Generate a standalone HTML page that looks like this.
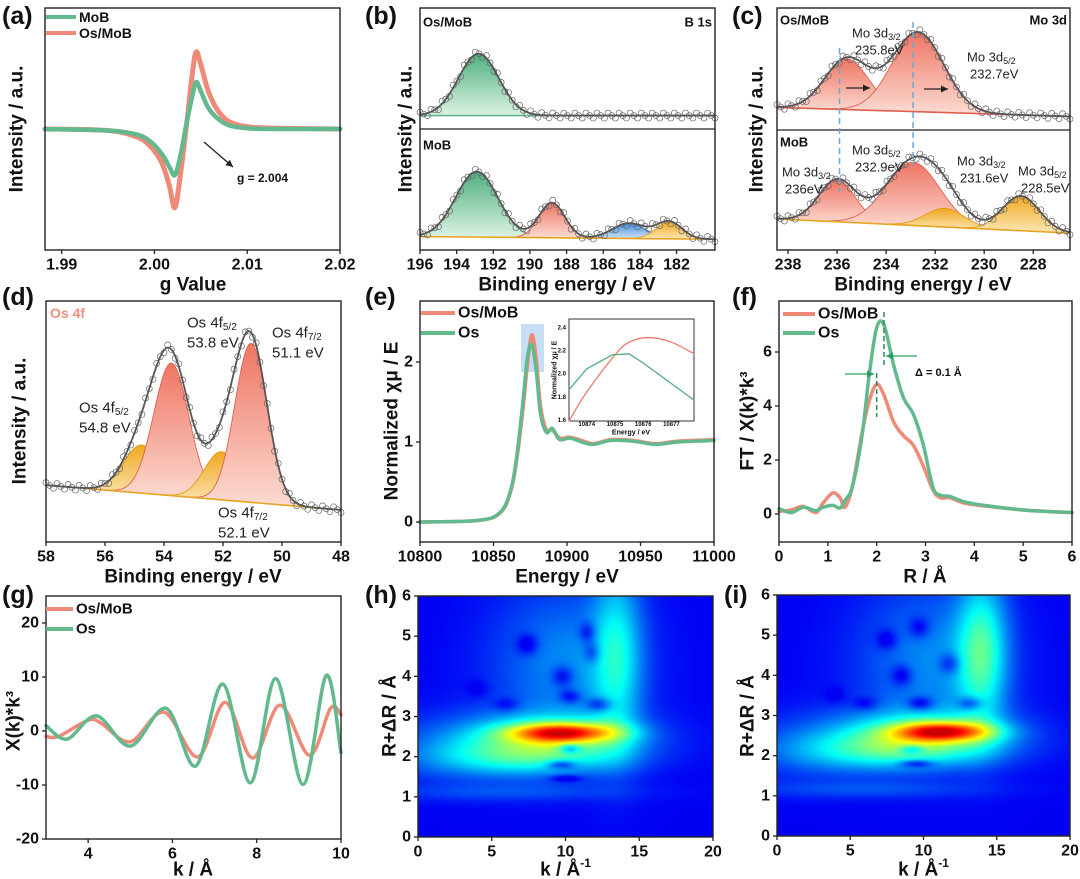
<!DOCTYPE html>
<html><head><meta charset="utf-8"><title>Os/MoB characterization figure</title>
<style>
html,body{margin:0;padding:0;background:#fff;}
#wrap{position:relative;width:1080px;height:879px;overflow:hidden;font-family:"Liberation Sans",Arial,sans-serif;}
canvas{position:absolute;}
svg{position:absolute;left:0;top:0;}
</style></head>
<body>
<div id="wrap">
<canvas id="hmH" width="295" height="241" style="left:418px;top:596px;width:295px;height:241px"></canvas>
<canvas id="hmI" width="293" height="241" style="left:777px;top:595px;width:293px;height:241px"></canvas>
<svg id="fig" width="1080" height="879" viewBox="0 0 1080 879">
<defs>
<linearGradient id="gGreen" x1="0" y1="0" x2="0" y2="1"><stop offset="0" stop-color="#4fb07f"/><stop offset="1" stop-color="#dcf2e4"/></linearGradient>
<linearGradient id="gRed" x1="0" y1="0" x2="0" y2="1"><stop offset="0" stop-color="#ee7563"/><stop offset="1" stop-color="#fcdcd3"/></linearGradient>
<linearGradient id="gBlue" x1="0" y1="0" x2="0" y2="1"><stop offset="0" stop-color="#3f8de0"/><stop offset="1" stop-color="#d4e6fa"/></linearGradient>
<linearGradient id="gYellow" x1="0" y1="0" x2="0" y2="1"><stop offset="0" stop-color="#f0a820"/><stop offset="1" stop-color="#fbe8b8"/></linearGradient>
</defs>
</svg>
</div>
<script>
// ---------- DATA ----------
// (a) EPR
const epr_g = [1.9882,1.995,1.998,1.9995,2.0008,2.0016,2.0022,2.0028,2.0035,2.0041,2.0045,2.0050,2.0058,2.0068,2.008,2.010,2.013,2.02];
const epr_osmob = [0,-0.02,-0.1,-0.22,-0.45,-0.75,-1.04,-0.6,0.1,0.75,1.02,0.85,0.5,0.25,0.1,0.03,0.01,0];
const epr_mob = [0,-0.02,-0.07,-0.16,-0.33,-0.5,-0.61,-0.35,0.1,0.45,0.62,0.5,0.28,0.14,0.05,0.01,0,0];
const epr_xticks = [1.99,2.00,2.01,2.02];
// (b) B 1s
const b_top_centers = [192.8];
const b_top_heights = [0.69];
const b_top_sigmas = [1.1];
const b_bot_centers = [192.9,188.8,184.6,182.4];
const b_bot_heights = [0.73,0.39,0.17,0.19];
const b_bot_sigmas = [1.15,0.7,0.9,0.7];
const b_xticks = [196,194,192,190,188,186,184,182];
// (c) Mo 3d
const c_top_centers = [235.6,232.7];
const c_top_heights = [0.56,0.88];
const c_top_sigmas = [0.9,1.05];
const c_bot_centers = [236,232.9,231.6,228.5];
const c_bot_heights = [0.47,0.71,0.21,0.39];
const c_bot_sigmas = [0.75,1.1,0.8,0.75];
const c_xticks = [238,236,234,232,230,228];
// (d) Os 4f
const d_centers = [54.75,53.75,52.05,51.05];
const d_heights = [0.2,0.55,0.2,0.66];
const d_sigmas = [0.62,0.6,0.58,0.55];
const d_xticks = [58,56,54,52,50,48];
// (e) XANES
const xan_E = [10800,10840,10855,10862,10866,10870,10873,10876,10879,10882,10886,10890,10895,10902,10910,10918,10930,10945,10960,10975,11000];
const xan_osmob = [0,0.02,0.12,0.4,0.8,1.4,1.95,2.34,2.05,1.45,1.15,1.15,1.05,1.06,1.02,0.98,1.03,1.02,0.98,1.01,1.03];
const xan_os = [0,0.02,0.13,0.42,0.85,1.5,2.05,2.22,1.9,1.35,1.12,1.17,1.03,1.05,1.0,0.97,1.02,1.01,0.97,1.0,1.02];
const xan_xticks = [10800,10850,10900,10950,11000];
const xan_yticks = [0,1,2];
const ins_E_red = [10873.37,10874,10875,10875.5,10876.2,10877,10877.8];
const ins_v_red = [1.6,1.85,2.17,2.28,2.32,2.28,2.18];
const ins_E_green = [10873.37,10874,10874.9,10875.5,10876,10877.8];
const ins_v_green = [1.87,2.05,2.17,2.18,2.1,1.78];
const ins_xticks = [10874,10875,10876,10877];
const ins_yticks = [1.6,1.8,2.0,2.2,2.4];
// (f) FT-EXAFS
const ft_R = [0,0.25,0.5,0.75,0.9,1.1,1.25,1.35,1.5,1.7,1.85,2.0,2.15,2.35,2.55,2.75,2.95,3.15,3.3,3.5,3.8,4.2,5,6];
const ft_osmob = [0.1,0.15,0.28,0.05,0.4,0.78,0.6,0.25,1.0,3.0,4.2,4.8,4.4,3.4,2.9,2.55,1.8,0.9,0.6,0.6,0.4,0.3,0.15,0.05];
const ft_os = [0.2,0.05,0.25,0.12,0.25,0.32,0.22,0.5,1.0,2.9,5.2,6.9,7.0,5.5,4.3,3.7,2.6,1.0,0.7,0.65,0.45,0.32,0.15,0.05];
const ft_xticks = [0,1,2,3,4,5,6];
const ft_yticks = [0,2,4,6];
// (g) k-space
const k_osmob = [3,3.3,4.0,4.3,5.0,5.8,6.6,7.25,7.9,8.55,9.25,9.75,10];
const chi_osmob = [-1,-1,2,1.5,-2,3.5,-4.8,5.3,-5,4.8,-4.5,4.2,3];
const k_os = [3,3.5,4.2,5.0,5.85,6.55,7.2,7.85,8.45,9.1,9.65,10];
const chi_os = [1,-1.5,2.8,-2.8,4.2,-6.5,8.7,-9.6,9.7,-9.9,10.3,-4];
const k_xticks = [4,6,8,10];
const k_yticks = [-20,-10,0,10,20];
// (h),(i) wavelet transform features: [k, R, amplitude, sigmaK, sigmaR]
const wt_h_k = [9.8,9,7,13.5,10,3,6, 7.4,9.8,10.3,11.5,11.8,12.3,6,10.3,9.7,10,4];
const wt_h_R = [2.6,2.45,1.95,4.5,4.3,2.2,1.1, 4.8,4.0,3.5,5.1,4.6,3.3,3.3,2.2,1.8,1.45,3.7];
const wt_h_a = [0.6,0.33,0.21,0.26,0.17,0.1,0.08, -0.15,-0.15,-0.15,-0.15,-0.13,-0.18,-0.1,-0.25,-0.2,-0.15,-0.06];
const wt_h_sk = [2.5,4.2,4.5,1.2,3.5,4,6, 0.5,0.5,0.5,0.4,0.4,0.6,0.6,0.5,0.7,0.7,0.5];
const wt_h_sR = [0.17,0.42,0.32,1.6,1.4,0.6,0.15, 0.18,0.18,0.12,0.18,0.18,0.12,0.12,0.08,0.08,0.06,0.15];
const wt_i_k = [11.3,10,7.5,14,10.5,3,6, 7.5,9.7,8.5,11.8,9.8,13.2,6,9.2,9.5,4];
const wt_i_R = [2.6,2.5,2.1,4.6,4.3,2.2,1.15, 4.9,5.2,4.0,4.3,3.3,3.3,3.3,2.15,1.8,3.5];
const wt_i_a = [0.6,0.33,0.21,0.34,0.17,0.1,0.08, -0.13,-0.13,-0.15,-0.15,-0.18,-0.18,-0.1,-0.2,-0.2,-0.06];
const wt_i_sk = [2.3,4.2,4.5,1.2,3.5,4,6, 0.5,0.5,0.5,0.5,0.6,0.6,0.6,0.6,0.8,0.5];
const wt_i_sR = [0.17,0.42,0.32,1.3,1.4,0.6,0.15, 0.18,0.18,0.18,0.18,0.12,0.12,0.12,0.08,0.07,0.15];
const wt_xticks = [0,5,10,15,20];
const wt_yticks = [0,1,2,3,4,5,6];

// ---------- HELPERS ----------
const NS = 'http://www.w3.org/2000/svg';
const svg = document.getElementById('fig');
function mk(tag, attrs, parent){
  const e = document.createElementNS(NS, tag);
  for (const k in attrs) e.setAttribute(k, attrs[k]);
  (parent || svg).appendChild(e);
  return e;
}
function nm(e, n){
  
  
  return e;
}
function lin(d0,d1,r0,r1){ return v => r0 + (v-d0)/(d1-d0)*(r1-r0); }
function smooth(pts){
  let d = 'M' + pts[0][0].toFixed(2) + ',' + pts[0][1].toFixed(2);
  for (let i=0;i<pts.length-1;i++){
    const p0 = pts[i-1]||pts[i], p1=pts[i], p2=pts[i+1], p3=pts[i+2]||pts[i+1];
    const c1x=p1[0]+(p2[0]-p0[0])/6, c1y=p1[1]+(p2[1]-p0[1])/6;
    const c2x=p2[0]-(p3[0]-p1[0])/6, c2y=p2[1]-(p3[1]-p1[1])/6;
    d += ` C${c1x.toFixed(2)},${c1y.toFixed(2)} ${c2x.toFixed(2)},${c2y.toFixed(2)} ${p2[0].toFixed(2)},${p2[1].toFixed(2)}`;
  }
  return d;
}
function text(x,y,str,opts,name){
  const o = Object.assign({size:14,weight:'bold',anchor:'start',fill:'#111'},opts||{});
  const t = mk('text',{x:x,y:y,'font-size':o.size,'font-weight':o.weight,'text-anchor':o.anchor,fill:o.fill,'font-family':'Liberation Sans, Arial, sans-serif','dominant-baseline':'central'});
  if (o.rot) t.setAttribute('transform',`rotate(-90 ${x} ${y})`);
  t.textContent = str;
  nm(t, name);
  return t;
}
function frame(x0,y0,x1,y1,name){
  const r = mk('rect',{x:x0,y:y0,width:x1-x0,height:y1-y0,fill:'none',stroke:'#222','stroke-width':1.4});
  nm(r, name);
}
function xAxis(vals, sx, ybot, labels, name, size){
  vals.forEach((v,i)=>{
    const x = sx(v);
    const t = mk('line',{x1:x,y1:ybot,x2:x,y2:ybot+4,stroke:'#222','stroke-width':1.3});
    nm(t, name+'-tick');
    text(x, ybot+15, labels ? labels[i] : String(v), {size:size||15,anchor:'middle'}, name+'-label');
  });
}
function yAxis(vals, sy, xleft, name, fmt, size){
  vals.forEach(v=>{
    const y = sy(v);
    const t = mk('line',{x1:xleft-4,y1:y,x2:xleft,y2:y,stroke:'#222','stroke-width':1.3});
    nm(t, name+'-tick');
    text(xleft-7, y, fmt ? fmt(v) : String(v), {size:size||15,anchor:'end'}, name+'-label');
  });
}
function line(xs, ys, sx, sy, color, w, name){
  const pts = xs.map((x,i)=>[sx(x), sy(ys[i])]);
  const p = mk('path',{d:smooth(pts),fill:'none',stroke:color,'stroke-width':w,'stroke-linejoin':'round','stroke-linecap':'round'});
  nm(p, name);
  return p;
}
function legendEntry(x,y,len,color,label,name,size){
  const l = mk('line',{x1:x,y1:y,x2:x+len,y2:y,stroke:color,'stroke-width':4});
  nm(l, name+'-swatch');
  text(x+len+3,y,label,{size:size||15},name+'-label');
}
function arrow(x1,y1,x2,y2,color,name){
  const l = mk('line',{x1:x1,y1:y1,x2:x2,y2:y2,stroke:color,'stroke-width':1.3});
  nm(l, name);
  const a = Math.atan2(y2-y1,x2-x1), L=7, W=3.5;
  const p = [[x2,y2],[x2-L*Math.cos(a)+W*Math.sin(a), y2-L*Math.sin(a)-W*Math.cos(a)],[x2-L*Math.cos(a)-W*Math.sin(a), y2-L*Math.sin(a)+W*Math.cos(a)]];
  const h = mk('polygon',{points:p.map(q=>q.join(',')).join(' '),fill:color});
  nm(h, name+'-head');
}
const FILL = {g:'url(#gGreen)',r:'url(#gRed)',b:'url(#gBlue)',y:'url(#gYellow)'};
const EDGE = {g:'#3f9a6c',r:'#e0604f',b:'#3c7fd0',y:'#e39a10'};
function gauss(x,c,h,s){ return h*Math.exp(-(x-c)*(x-c)/(2*s*s)); }
function xps(sx, sy, xd0, xd1, base0, base1, centers, heights, sigmas, colors, name, baseColor, circles){
  const N = 240;
  const xs = []; for (let i=0;i<=N;i++) xs.push(xd0 + (xd1-xd0)*i/N);
  const base = x => base0 + (base1-base0)*(x-xd0)/(xd1-xd0);
  centers.forEach((c,j)=>{
    let d='';
    const pts = xs.filter(x=>Math.abs(x-c)<4*sigmas[j]);
    pts.forEach((x,i)=>{ d += (i?'L':'M') + sx(x).toFixed(2)+','+sy(base(x)+gauss(x,c,heights[j],sigmas[j])).toFixed(2); });
    for (let i=pts.length-1;i>=0;i--) d += 'L'+sx(pts[i]).toFixed(2)+','+sy(base(pts[i])).toFixed(2);
    const p = mk('path',{d:d+'Z',fill:FILL[colors[j]],stroke:EDGE[colors[j]],'stroke-width':0.9});
    nm(p, name+'-peak-'+(j+1));
  });
  const bl = mk('line',{x1:sx(xd0),y1:sy(base0),x2:sx(xd1),y2:sy(base1),stroke:baseColor,'stroke-width':1.6});
  nm(bl, name+'-baseline');
  const env = xs.map(x=>{ let v=base(x); centers.forEach((c,j)=>{v+=gauss(x,c,heights[j],sigmas[j]);}); return [sx(x),sy(v)]; });
  if (circles){
    for (let i=0;i<env.length;i+=3){
      const c = mk('circle',{cx:env[i][0],cy:env[i][1]+((i/3)%3-1)*2.5,r:3,fill:'none',stroke:'#666','stroke-width':0.7});
      nm(c, name+'-data-point');
    }
  }
  const e = mk('path',{d:'M'+env.map(p=>p[0].toFixed(2)+','+p[1].toFixed(2)).join('L'),fill:'none',stroke:'#555','stroke-width':1.8});
  nm(e, name+'-envelope');
}
function panelLabel(x,y,s,name){ text(x,y,s,{size:25},name); }

// ---------- (a) EPR ----------
{
  const sx = lin(1.9882,2.0200,45,340), sy = lin(-1.6,1.6,250,8);
  line(epr_g, epr_osmob, sx, sy, '#f08a78', 5, 'epr-osmob-line');
  line(epr_g, epr_mob, sx, sy, '#62b98e', 4.5, 'epr-mob-line');
  frame(45,8,340,250,'plot-frame-a');
  xAxis(epr_xticks, sx, 250, epr_xticks.map(v=>v.toFixed(2)), 'x-axis-a', 16);
  text(193,285,'g Value',{size:19,anchor:'middle'},'x-axis-title-a');
  text(17,129,'Intensity / a.u.',{size:19,anchor:'middle',rot:true},'y-axis-title-a');
  legendEntry(46,17,30,'#62b98e','MoB','legend-mob-a',14);
  legendEntry(46,33,30,'#f08a78','Os/MoB','legend-osmob-a',14);
  arrow(204,142,233,167,'#222','g-value-arrow');
  text(237,178,'g = 2.004',{size:12},'g-value-annotation');
  panelLabel(2,16,'(a)','panel-label-a');
}
// ---------- (b) B 1s ----------
{
  const sx = lin(196,179.9,420,715);
  const syT = lin(-0.15,1.2,129,8), syB = lin(-0.15,1.2,250,129);
  xps(sx, syT, 196, 179.9, 0, 0, b_top_centers, b_top_heights, b_top_sigmas, ['g'], 'b1s-osmob', '#5fb98a', true);
  xps(sx, syB, 196, 179.9, 0, -0.03, b_bot_centers, b_bot_heights, b_bot_sigmas, ['g','r','b','y'], 'b1s-mob', '#e8a420', true);
  frame(420,8,715,250,'plot-frame-b');
  const sp = mk('line',{x1:420,y1:129,x2:715,y2:129,stroke:'#222','stroke-width':1.3}); nm(sp,'panel-divider-b');
  xAxis(b_xticks, sx, 250, null, 'x-axis-b', 16);
  text(567,285,'Binding energy / eV',{size:19,anchor:'middle'},'x-axis-title-b');
  text(406,129,'Intensity / a.u.',{size:19,anchor:'middle',rot:true},'y-axis-title-b');
  text(423,22,'Os/MoB',{size:13},'sample-label-osmob-b');
  text(712,22,'B 1s',{size:13,anchor:'end'},'region-label-b');
  text(423,145,'MoB',{size:13},'sample-label-mob-b');
  panelLabel(365,16,'(b)','panel-label-b');
}
// ---------- (c) Mo 3d ----------
{
  const sx = lin(238.45,226.5,777,1070);
  const syT = lin(-0.15,1.2,130,8), syB = lin(-0.15,1.2,250,130);
  xps(sx, syT, 238.45, 226.5, 0.1, 0.0, c_top_centers, c_top_heights, c_top_sigmas, ['r','r'], 'mo3d-osmob', '#e0604f', true);
  xps(sx, syB, 238.45, 226.5, 0.2, 0.04, c_bot_centers, c_bot_heights, c_bot_sigmas, ['r','r','y','y'], 'mo3d-mob', '#e8a420', true);
  frame(777,8,1070,250,'plot-frame-c');
  const sp = mk('line',{x1:777,y1:130,x2:1070,y2:130,stroke:'#222','stroke-width':1.3}); nm(sp,'panel-divider-c');
  [235.9,232.9].forEach((v,i)=>{
    const l = mk('line',{x1:sx(v),y1:i?22:48,x2:sx(v),y2:i?165:192,stroke:'#6aa8d8','stroke-width':1.5,'stroke-dasharray':'6,4'});
    nm(l,'shift-guide-'+(i+1));
  });
  arrow(846,88,870,88,'#222','shift-arrow-1');
  arrow(924,89,948,89,'#222','shift-arrow-2');
  xAxis(c_xticks, sx, 250, null, 'x-axis-c', 16);
  text(923,285,'Binding energy / eV',{size:19,anchor:'middle'},'x-axis-title-c');
  text(757,129,'Intensity / a.u.',{size:19,anchor:'middle',rot:true},'y-axis-title-c');
  text(780,20,'Os/MoB',{size:13},'sample-label-osmob-c');
  text(1067,20,'Mo 3d',{size:13,anchor:'end'},'region-label-c');
  text(780,142,'MoB',{size:13},'sample-label-mob-c');
  function lab(x,y,sub,ev,name){
    const t = mk('text',{x:x,y:y,'font-size':13,'font-family':'Liberation Sans, Arial, sans-serif',fill:'#222','dominant-baseline':'central'});
    t.innerHTML = 'Mo 3d<tspan font-size="9" dy="4">'+sub+'</tspan>';
    nm(t, name+'-orbital');
    text(x+3,y+17,ev,{size:13,weight:'normal',fill:'#222'},name+'-energy');
  }
  lab(852,33,'3/2','235.8eV','peak-label-osmob-3d32');
  lab(967,57,'5/2','232.7eV','peak-label-osmob-3d52');
  lab(852,150,'5/2','232.9eV','peak-label-mob-3d52-a');
  lab(782,172,'3/2','236eV','peak-label-mob-3d32-a');
  lab(957,161,'3/2','231.6eV','peak-label-mob-3d32-b');
  lab(1018,171,'5/2','228.5eV','peak-label-mob-3d52-b');
  panelLabel(732,16,'(c)','panel-label-c');
}
// ---------- (d) Os 4f ----------
{
  const sx = lin(58,48,46,341), sy = lin(0,1,542,301);
  xps(sx, sy, 58, 48, 0.236, 0.133, d_centers, d_heights, d_sigmas, ['y','r','y','r'], 'os4f', '#e8a420', true);
  frame(46,301,341,542,'plot-frame-d');
  xAxis(d_xticks, sx, 542, null, 'x-axis-d', 16);
  text(193,577,'Binding energy / eV',{size:19,anchor:'middle'},'x-axis-title-d');
  text(20,421,'Intensity / a.u.',{size:19,anchor:'middle',rot:true},'y-axis-title-d');
  text(50,313,'Os 4f',{size:14,fill:'#f09080'},'region-label-d');
  function lab(x,y,sub,ev,name){
    const t = mk('text',{x:x,y:y,'font-size':15,'font-family':'Liberation Sans, Arial, sans-serif',fill:'#222','dominant-baseline':'central'});
    t.innerHTML = 'Os 4f<tspan font-size="10" dy="4">'+sub+'</tspan>';
    nm(t, name+'-orbital');
    text(x,y+20,ev,{size:15,weight:'normal',fill:'#222'},name+'-energy');
  }
  lab(187,323,'5/2','53.8 eV','peak-label-4f52-main');
  lab(272,333,'7/2','51.1 eV','peak-label-4f72-main');
  lab(79,408,'5/2','54.8 eV','peak-label-4f52-minor');
  lab(218,513,'7/2','52.1 eV','peak-label-4f72-minor');
  panelLabel(2,297,'(d)','panel-label-d');
}
// ---------- (e) XANES ----------
{
  const sx = lin(10800,11000,420,714), sy = lin(0,1,522,442);
  const hl = mk('rect',{x:521,y:324,width:23,height:48,fill:'#bcd8f2',opacity:0.85}); nm(hl,'zoom-highlight');
  line(xan_E, xan_osmob, sx, sy, '#f08a78', 3.5, 'xanes-osmob-line');
  line(xan_E, xan_os, sx, sy, '#62b98e', 3.5, 'xanes-os-line');
  frame(420,301,714,542,'plot-frame-e');
  xAxis(xan_xticks, sx, 542, null, 'x-axis-e', 16);
  yAxis(xan_yticks, sy, 420, 'y-axis-e', null, 16);
  text(567,577,'Energy / eV',{size:19,anchor:'middle'},'x-axis-title-e');
  text(392,421,'Normalized χμ / E',{size:19,anchor:'middle',rot:true},'y-axis-title-e');
  legendEntry(421,313,34,'#f08a78','Os/MoB','legend-osmob-e',16);
  legendEntry(421,333,34,'#62b98e','Os','legend-os-e',16);
  const ix = lin(10873.37,10877.8,569,694), iy = lin(1.6,2.48,421,319);
  const bg = mk('rect',{x:569,y:319,width:125,height:102,fill:'#fff',stroke:'#333','stroke-width':1}); nm(bg,'inset-frame');
  line(ins_E_red, ins_v_red, ix, iy, '#ee7a68', 1.3, 'inset-osmob-line');
  const gp = mk('path',{d:'M'+ins_E_green.map((e,i)=>ix(e).toFixed(1)+','+iy(ins_v_green[i]).toFixed(1)).join('L'),fill:'none',stroke:'#4fae80','stroke-width':1.3}); nm(gp,'inset-os-line');
  ins_xticks.forEach(v=>{ text(ix(v),425,String(v),{size:6,anchor:'middle'},'inset-x-label'); });
  ins_yticks.forEach(v=>{ text(566,iy(v),v.toFixed(1),{size:6,anchor:'end'},'inset-y-label'); });
  text(631,433,'Energy / eV',{size:7,anchor:'middle'},'inset-x-title');
  text(555,370,'Normalized χμ / E',{size:7,anchor:'middle',rot:true},'inset-y-title');
  panelLabel(365,297,'(e)','panel-label-e');
}
// ---------- (f) FT ----------
{
  const sx = lin(0,6,779,1072), sy = lin(0,1,514,487);
  line(ft_R, ft_osmob, sx, sy, '#f08a78', 3.5, 'ft-osmob-line');
  line(ft_R, ft_os, sx, sy, '#62b98e', 3.5, 'ft-os-line');
  frame(779,301,1072,542,'plot-frame-f');
  xAxis(ft_xticks, sx, 542, null, 'x-axis-f', 16);
  yAxis(ft_yticks, sy, 779, 'y-axis-f', null, 16);
  const d1 = mk('line',{x1:sx(2.0),y1:373,x2:sx(2.0),y2:417,stroke:'#2a8a5a','stroke-width':1.5,'stroke-dasharray':'5,3'}); nm(d1,'peak-guide-osmob');
  const d2 = mk('line',{x1:sx(2.15),y1:312,x2:sx(2.15),y2:368,stroke:'#2a8a5a','stroke-width':1.5,'stroke-dasharray':'5,3'}); nm(d2,'peak-guide-os');
  arrow(845,374,874,374,'#2aa060','shift-arrow-left');
  arrow(917,356,886,356,'#2aa060','shift-arrow-right');
  text(915,373,'Δ = 0.1 Å',{size:11},'delta-annotation');
  text(925,577,'R / Å',{size:19,anchor:'middle'},'x-axis-title-f');
  text(748,421,'FT / X(k)*k³',{size:19,anchor:'middle',rot:true},'y-axis-title-f');
  legendEntry(783,314,32,'#f08a78','Os/MoB','legend-osmob-f',16);
  legendEntry(783,333,32,'#62b98e','Os','legend-os-f',16);
  panelLabel(732,297,'(f)','panel-label-f');
}
// ---------- (g) k-space ----------
{
  const sx = lin(3,10,46,341), sy = lin(0,10,731,677);
  line(k_osmob, chi_osmob, sx, sy, '#f08a78', 3.5, 'chi-osmob-line');
  line(k_os, chi_os, sx, sy, '#62b98e', 3.5, 'chi-os-line');
  frame(46,596,341,839,'plot-frame-g');
  xAxis(k_xticks, sx, 839, null, 'x-axis-g', 16);
  yAxis(k_yticks, sy, 46, 'y-axis-g', null, 16);
  text(193,870,'k / Å',{size:19,anchor:'middle'},'x-axis-title-g');
  text(14,721,'X(k)*k³',{size:19,anchor:'middle',rot:true},'y-axis-title-g');
  legendEntry(46,609,27,'#f08a78','Os/MoB','legend-osmob-g',15);
  legendEntry(46,629,27,'#62b98e','Os','legend-os-g',15);
  panelLabel(2,595,'(g)','panel-label-g');
}
// ---------- (h),(i) wavelet ----------
function jet(t){
  const c = v => Math.max(0,Math.min(1,v));
  return [c(1.5-Math.abs(4*t-3)),c(1.5-Math.abs(4*t-2)),c(1.5-Math.abs(4*t-1))].map(v=>Math.round(v*255));
}
function heat(id, ks, Rs, as, sks, sRs){
  const cv = document.getElementById(id), ctx = cv.getContext('2d');
  const W = cv.width, H = cv.height, img = ctx.createImageData(W,H);
  for (let py=0;py<H;py++){
    const R = 6*(1-py/(H-1));
    for (let px=0;px<W;px++){
      const k = 20*px/(W-1);
      let v = 0;
      for (let j=0;j<ks.length;j++){
        const dk=(k-ks[j])/sks[j], dr=(R-Rs[j])/sRs[j];
        v += as[j]*Math.exp(-0.5*(dk*dk+dr*dr));
      }
      v = Math.max(0,Math.min(1,v));
      const col = jet(0.125+0.8*v);
      const o = 4*(py*W+px);
      img.data[o]=col[0]; img.data[o+1]=col[1]; img.data[o+2]=Math.round(col[2]*0.96); img.data[o+3]=255;
    }
  }
  ctx.putImageData(img,0,0);
}
heat('hmH', wt_h_k, wt_h_R, wt_h_a, wt_h_sk, wt_h_sR);
heat('hmI', wt_i_k, wt_i_R, wt_i_a, wt_i_sk, wt_i_sR);
function wtAxes(x0,y0,x1,y1,sfx,letter,lx){
  const sx = lin(0,20,x0,x1), sy = lin(0,6,y1,y0);
  frame(x0,y0,x1,y1,'plot-frame-'+sfx);
  xAxis(wt_xticks, sx, y1, null, 'x-axis-'+sfx, 16);
  yAxis(wt_yticks, sy, x0, 'y-axis-'+sfx, null, 16);
  const t = mk('text',{x:(x0+x1)/2,y:870,'font-size':19,'font-weight':'bold','text-anchor':'middle','font-family':'Liberation Sans, Arial, sans-serif',fill:'#111','dominant-baseline':'central'});
  t.innerHTML = 'k / Å<tspan font-size="12" dy="-7">-1</tspan>';
  nm(t,'x-axis-title-'+sfx);
  text(lx,716,'R+ΔR / Å',{size:19,anchor:'middle',rot:true},'y-axis-title-'+sfx);
  panelLabel(x0-53,595,letter,'panel-label-'+sfx);
}
wtAxes(418,596,713,837,'h','(h)',390);
wtAxes(777,595,1070,836,'i','(i)',748);
</script>
</body></html>
